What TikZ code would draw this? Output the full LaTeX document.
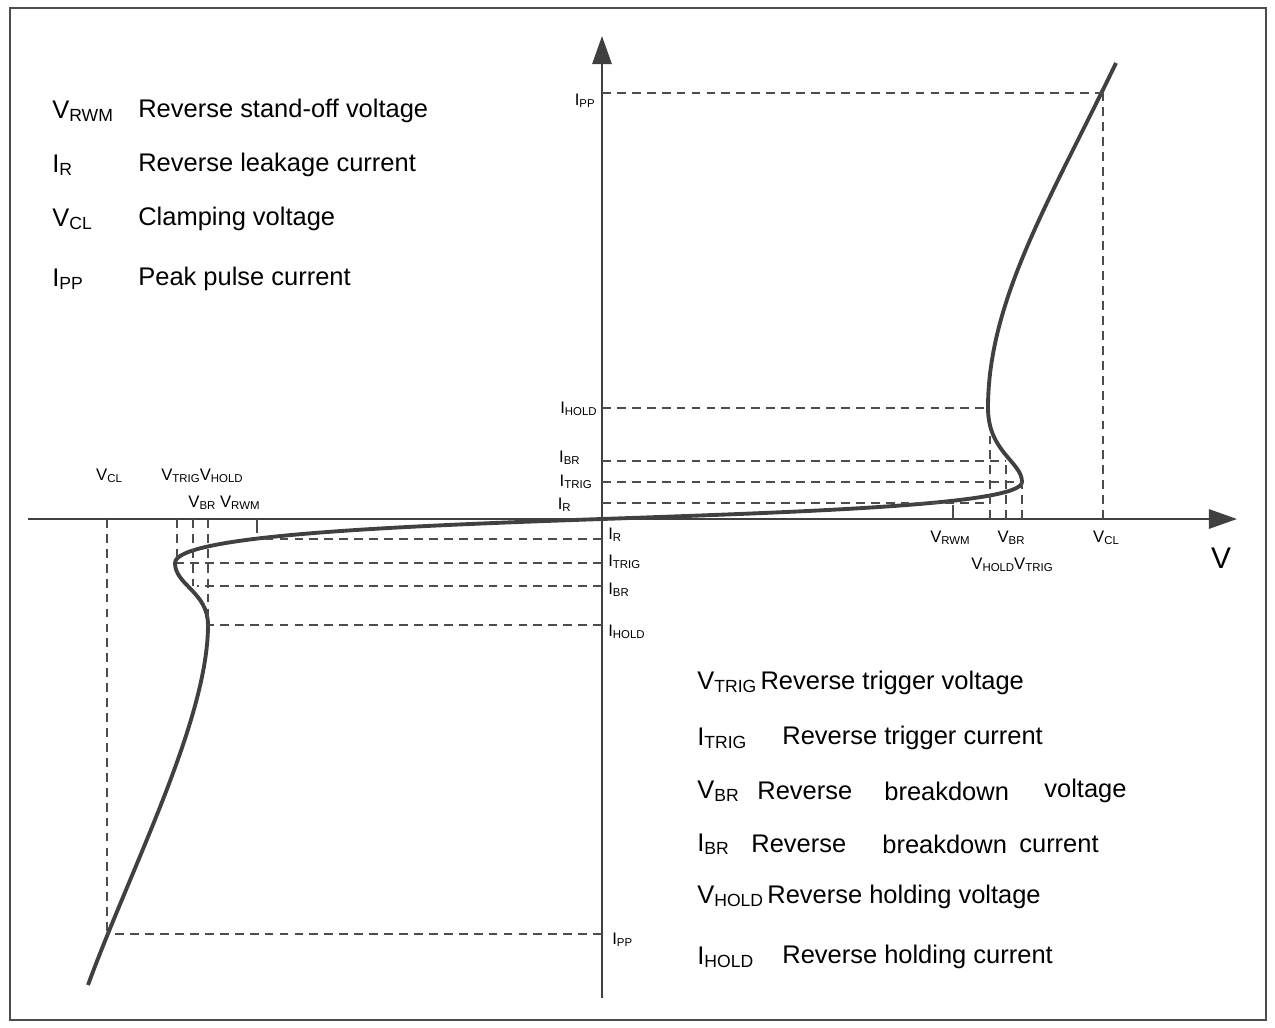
\documentclass[tikz,border=0pt]{standalone}
\usepackage{fontspec}
\setmainfont{Liberation Sans}
\usetikzlibrary{arrows.meta}
\newcommand{\sbs}[1]{\raisebox{-0.25ex}{\fontsize{6.5pt}{7pt}\selectfont #1}}
\newcommand{\lsb}[1]{\raisebox{-0.2ex}{\fontsize{10pt}{11pt}\selectfont #1}}
\begin{document}
\begin{tikzpicture}[x=0.02cm,y=-0.02cm,
  ax/.style={line width=1.2pt,draw=black!75,-{Triangle[length=16pt,width=11pt]}},
  dsh/.style={dashed,dash pattern=on 5pt off 3.5pt,line width=0.8pt,draw=black!70},
  crv/.style={line width=2.2pt,draw=black!75},
  lab/.style={font=\fontsize{9.5pt}{10pt}\selectfont,inner sep=0pt},
  leg/.style={font=\fontsize{14.5pt}{16pt}\selectfont,inner sep=0pt,anchor=west}]
\useasboundingbox (0,0) rectangle (1275,1028);
\draw[line width=0.8pt,black!70] (10,8) rectangle (1266,1020);
\coordinate (O) at (602,519);
\coordinate (xl) at (28,519); \coordinate (xr) at (1237,519);
\coordinate (yb) at (602,998); \coordinate (yt) at (602,36);
\draw[ax] (xl) -- (xr);
\draw[ax] (yb) -- (yt);
% right curve key points
\coordinate (rT) at (1022,482);
\coordinate (rH) at (988,408);
\coordinate (rP) at (1103,93);
\draw[crv] (O) .. controls (800,512) and (1022,505) .. (rT)
  .. controls (1022,462) and (988,452) .. (rH)
  .. controls (988,300) and (1050,200) .. (1116,63);
% left curve
\coordinate (lT) at (175,563);
\coordinate (lH) at (208,625);
\draw[crv] (O) .. controls (400,526) and (175,535) .. (lT)
  .. controls (175,585) and (208,592) .. (lH)
  .. controls (208,720) and (130,870) .. (88,985);
% right dashed
\draw[dsh] (602,503) -- (990,503);
\draw[dsh] (602,482) -- (1022,482);
\draw[dsh] (602,461) -- (1006,461);
\draw[dsh] (602,408) -- (988,408);
\draw[dsh] (602,93) -- (1103,93);
\draw[dsh] (990,519) -- (990,435);
\draw[dsh] (1006,519) -- (1006,461);
\draw[dsh] (1022,519) -- (1022,482);
\draw[dsh] (1103,519) -- (1103,93);
\draw[line width=0.8pt,black!70] (953,519) -- (953,505);
% left dashed
\draw[dsh] (602,539) -- (257,539);
\draw[dsh] (602,563) -- (177,563);
\draw[dsh] (602,586) -- (197,586);
\draw[dsh] (602,625) -- (208,625);
\draw[dsh] (602,934) -- (107,934);
\draw[dsh] (107,519) -- (107,934);
\draw[dsh] (177,519) -- (177,563);
\draw[dsh] (193,519) -- (193,586);
\draw[dsh] (208,519) -- (208,625);
\draw[line width=0.8pt,black!70] (257,519) -- (257,533);
% y-axis labels
\node[lab,anchor=east] (a1) at (595,101) {I\sbs{PP}};
\node[lab,anchor=east] (a2) at (597,409) {I\sbs{HOLD}};
\node[lab,anchor=east] (a3) at (580,458) {I\sbs{BR}};
\node[lab,anchor=east] (a4) at (592,482) {I\sbs{TRIG}};
\node[lab,anchor=east] (a5) at (571,505) {I\sbs{R}};
\node[lab,anchor=west] (b1) at (608,535) {I\sbs{R}};
\node[lab,anchor=west] (b2) at (608,562) {I\sbs{TRIG}};
\node[lab,anchor=west] (b3) at (608,590) {I\sbs{BR}};
\node[lab,anchor=west] (b4) at (608,632) {I\sbs{HOLD}};
\node[lab,anchor=west] (b5) at (612,940) {I\sbs{PP}};
% x-axis labels right
\node[lab] (c1) at (950,538) {V\sbs{RWM}};
\node[lab] (c2) at (1011,538) {V\sbs{BR}};
\node[lab] (c3) at (1106,538) {V\sbs{CL}};
\node[lab] (c4) at (1012,565) {V\sbs{HOLD}V\sbs{TRIG}};
\node[font=\fontsize{17pt}{18pt}\selectfont,inner sep=0pt] (V) at (1221,558) {V};
% x-axis labels left
\node[lab] (d1) at (109,476) {V\sbs{CL}};
\node[lab] (d2) at (202,476) {V\sbs{TRIG}V\sbs{HOLD}};
\node[lab] (d3) at (224,503) {V\sbs{BR} V\sbs{RWM}};
% top-left legend
\node[leg] (t1) at (52,111) {V\lsb{RWM}};
\node[leg] (t1d) at (138,111) {Reverse stand-off voltage};
\node[leg] (t2) at (52,165) {I\lsb{R}};
\node[leg] (t2d) at (138,165) {Reverse leakage current};
\node[leg] (t3) at (52,219) {V\lsb{CL}};
\node[leg] (t3d) at (138,219) {Clamping voltage};
\node[leg] (t4) at (52,279) {I\lsb{PP}};
\node[leg] (t4d) at (138,279) {Peak pulse current};
% bottom-right legend
\node[leg] (s1) at (697,683) {V\lsb{TRIG}\,Reverse trigger voltage};
\node[leg] (s2) at (697,738) {I\lsb{TRIG}};
\node[leg] (s2d) at (782,738) {Reverse trigger current};
\node[leg] (s3) at (697,791) {V\lsb{BR}};
\node[leg] (s3a) at (757,791) {Reverse};
\node[leg] (s3b) at (884,791) {breakdown};
\node[leg] (s3c) at (1044,791) {voltage};
\node[leg] (s4) at (697,844) {I\lsb{BR}};
\node[leg] (s4a) at (751,844) {Reverse};
\node[leg] (s4b) at (882,844) {breakdown};
\node[leg] (s4c) at (1019,844) {current};
\node[leg] (s5) at (697,897) {V\lsb{HOLD}\,Reverse holding voltage};
\node[leg] (s6) at (697,957) {I\lsb{HOLD}};
\node[leg] (s6d) at (782,957) {Reverse holding current};
\end{tikzpicture}
\end{document}
